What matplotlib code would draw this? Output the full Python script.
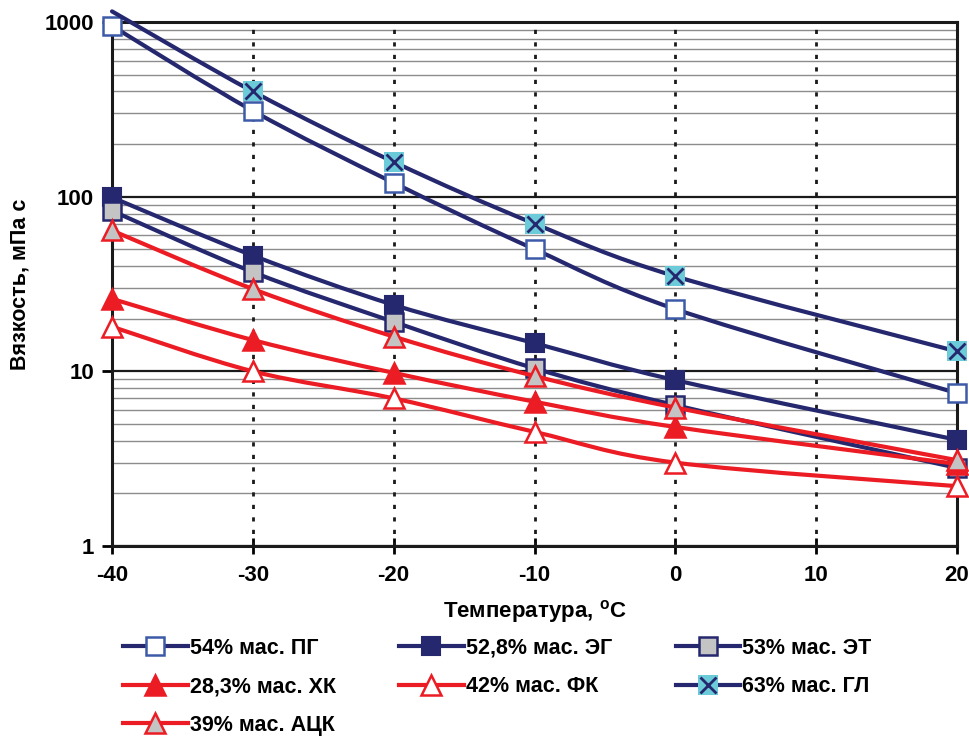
import matplotlib
matplotlib.use("Agg")
import matplotlib.pyplot as plt
import numpy as np
from matplotlib.lines import Line2D
from matplotlib.path import Path
from matplotlib.patches import PathPatch
from matplotlib.legend_handler import HandlerTuple

plt.rcParams["font.family"] = ["Liberation Sans", "DejaVu Sans"]
plt.rcParams["font.weight"] = "bold"

temps = [-40, -30, -20, -10, 0, 20]

pg = [950, 310, 120, 50, 22.7, 7.5]          # 54% мас. ПГ
eg = [99, 46, 24, 14.5, 8.9, 4.05]           # 52,8% мас. ЭГ
et = [83, 37, 19.2, 10.4, 6.4, 2.8]          # 53% мас. ЭТ
hk = [26, 15.1, 9.8, 6.7, 4.8, 2.95]         # 28,3% мас. ХК
fk = [18, 10, 7.0, 4.5, 3.0, 2.2]            # 42% мас. ФК
gl = [1150, 400, 158, 70, 35, 13]            # 63% мас. ГЛ
ack = [64, 29.6, 15.8, 9.4, 6.2, 3.1]        # 39% мас. АЦК

labels = ["54% мас. ПГ", "52,8% мас. ЭГ", "53% мас. ЭТ",
          "28,3% мас. ХК", "42% мас. ФК", "63% мас. ГЛ", "39% мас. АЦК"]

NAVY = "#25286e"
BLUE_EDGE = "#3d5aa8"
RED = "#ec1c24"
CYAN = "#6ccbd8"
GREY = "#c4c4c4"

fig = plt.figure(figsize=(9.69, 7.40), dpi=100)
ax = fig.add_axes([0.1156, 0.2622, 0.8720, 0.7081])
ax.set_yscale("log")
ax.set_xlim(-40, 20)
ax.set_ylim(1, 1000)


def smooth_path(xs, ys):
    # Excel-like smoothed line: cubic Bezier in display space
    pts = ax.transData.transform(np.column_stack([xs, ys]))
    pts = ax.transAxes.inverted().transform(pts)
    n = len(pts)
    verts = [pts[0]]
    codes = [Path.MOVETO]
    for i in range(n - 1):
        p0 = pts[i - 1] if i > 0 else pts[i]
        p1 = pts[i]
        p2 = pts[i + 1]
        p3 = pts[i + 2] if i + 2 < n else pts[i + 1]
        c1 = p1 + (p2 - p0) / 6.0
        c2 = p2 - (p3 - p1) / 6.0
        verts += [c1, c2, p2]
        codes += [Path.CURVE4] * 3
    return Path(verts, codes)


series = [
    (pg, NAVY, dict(marker="s", mfc="white", mec=BLUE_EDGE, ms=13, mew=1.8)),
    (eg, NAVY, dict(marker="s", mfc=NAVY, mec=NAVY, ms=13, mew=1.5)),
    (et, NAVY, dict(marker="s", mfc=GREY, mec=NAVY, ms=13, mew=1.8)),
    (hk, RED, dict(marker="^", mfc=RED, mec=RED, ms=14, mew=1.8)),
    (fk, RED, dict(marker="^", mfc="white", mec=RED, ms=14, mew=1.8)),
    (gl, NAVY, None),
    (ack, RED, dict(marker="^", mfc=GREY, mec=RED, ms=14, mew=1.8)),
]

handles = []
for z, (vals, col, mk) in enumerate(series):
    path = smooth_path(temps, vals)
    ax.add_patch(PathPatch(path, transform=ax.transAxes, fc="none", ec=col,
                           lw=3.0, zorder=3 + z * 0.1, clip_on=False,
                           capstyle="round"))
    xs = [t for t, v in zip(temps, vals) if v <= 1000]
    vs = [v for v in vals if v <= 1000]
    if mk is None:
        ax.plot(xs, vs, ls="none", marker="s", ms=14, mfc=CYAN, mec=CYAN,
                mew=0, zorder=3 + z * 0.1 + 0.05, clip_on=False)
        ax.plot(xs, vs, ls="none", marker="x", ms=12, mec=NAVY, mew=2,
                zorder=3 + z * 0.1 + 0.06, clip_on=False)
        h = (Line2D([], [], color=col, lw=3.0, marker="s", ms=14, mfc=CYAN,
                    mec=CYAN, mew=0),
             Line2D([], [], ls="none", marker="x", ms=12, mec=NAVY, mew=2))
    else:
        ax.plot(xs, vs, ls="none", zorder=3 + z * 0.1 + 0.05, clip_on=False, **mk)
        h = Line2D([], [], color=col, lw=3.0, **mk)
    handles.append(h)

# grid
ax.yaxis.grid(True, which="major", color="#1a1a1a", lw=1.6)
ax.yaxis.grid(True, which="minor", color="#8c8c8c", lw=1.0)
ax.set_xticks([-40, -30, -20, -10, 0, 10, 20])
for xv in [-30, -20, -10, 0, 10]:
    ax.axvline(xv, color="#1a1a1a", lw=2.0, ls=(0, (1.5, 3.0)), zorder=1)
ax.set_axisbelow(True)

for s in ax.spines.values():
    s.set_color("#1a1a1a")
    s.set_linewidth(2.2)

ax.set_yticks([1, 10, 100, 1000])
ax.set_yticklabels(["1", "10", "100", "1000"])
ax.yaxis.set_minor_formatter(matplotlib.ticker.NullFormatter())
ax.tick_params(axis="y", which="minor", length=0)
ax.tick_params(axis="y", which="major", direction="out", length=7, width=2,
               labelsize=16, pad=6)
ax.tick_params(axis="x", which="major", direction="inout", length=12, width=2,
               labelsize=16, pad=8)
ax.set_xticklabels(["-40", "-30", "-20", "-10", "0", "10", "20"])

ax.set_xlabel("Температура, $\\mathregular{^{o}}$С", fontsize=16,
              fontweight="bold", labelpad=8)
ax.set_ylabel("Вязкость, мПа с", fontsize=15.5, fontweight="bold", labelpad=10)

# legend filled column-wise: reorder so rows read like the original
order = [0, 3, 6, 1, 4, 2, 5]
fig.legend([handles[i] for i in order], [labels[i] for i in order],
           loc="upper left", bbox_to_anchor=(0.118, 0.150),
           ncol=3, frameon=False, fontsize=15.5, handlelength=3.0,
           handletextpad=0.1, columnspacing=2.95, labelspacing=0.82,
           borderaxespad=0,
           handler_map={tuple: HandlerTuple(ndivide=1, pad=0)})

fig.savefig("out.png", dpi=100)
